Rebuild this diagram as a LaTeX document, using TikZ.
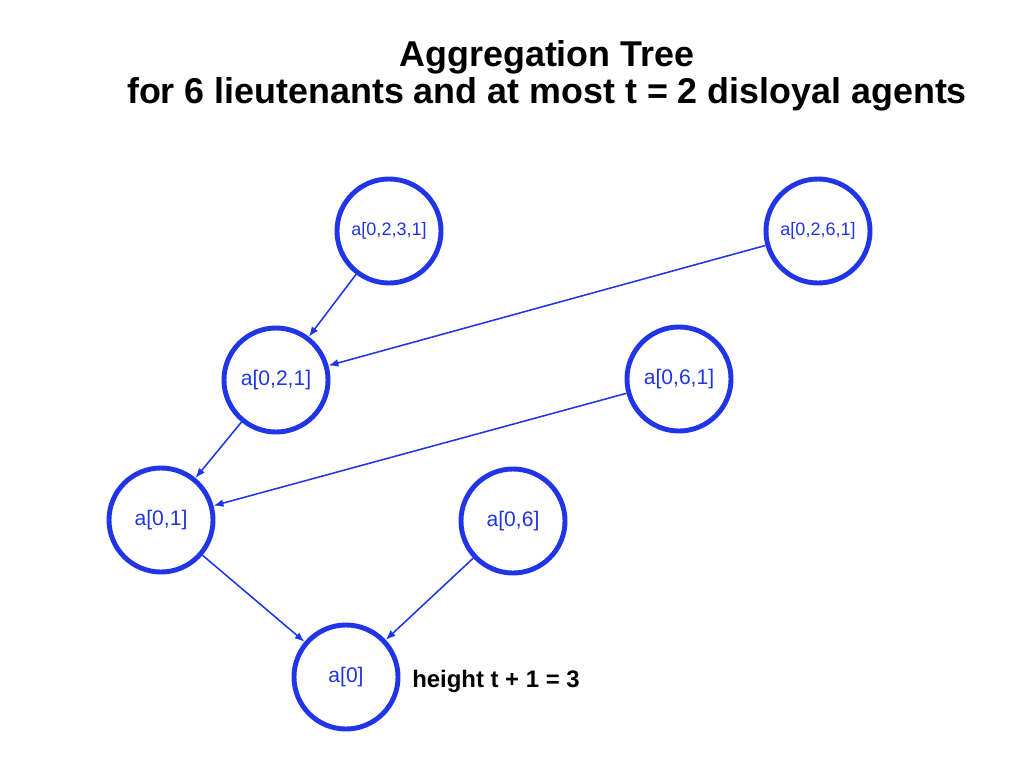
\documentclass[tikz,border=0pt]{standalone}
\usepackage{fontspec}
\setmainfont{Liberation Sans}
\usetikzlibrary{arrows.meta}
\definecolor{agblue}{RGB}{32,52,232}

\begin{document}
\begin{tikzpicture}[x=0.025cm,y=-0.025cm,
        agent/.style={circle,draw=agblue,line width=3.5pt,minimum size=2.6cm,inner sep=0pt,text=agblue,font=\fontsize{15}{18}\selectfont},
        deep/.style={font=\fontsize{12.8}{15}\selectfont},
        link/.style={draw=agblue,line width=1.1pt,-{Latex[length=7pt,width=5.5pt]}}]
            \useasboundingbox (0,0) rectangle (1024,768);
            \node[anchor=base,inner sep=0pt,font=\bfseries\fontsize{25.5}{26}\selectfont] (title) at (547,67) {Aggregation Tree};
            \node[anchor=base,inner sep=0pt,font=\bfseries\fontsize{25.5}{26}\selectfont] (subtitle) at (547,104) {for 6 lieutenants and at most t = 2 disloyal agents};
            \node[agent,deep] (a0231) at (389,231) {a[0,2,3,1]};
            \node[agent,deep] (a0261) at (818,231) {a[0,2,6,1]};
            \node[agent] (a021) at (276,380) {a[0,2,1]};
            \node[agent] (a061) at (679,379) {a[0,6,1]};
            \node[agent] (a01) at (161,520) {a[0,1]};
            \node[agent] (a06) at (513,521) {a[0,6]};
            \node[agent] (a0) at (346,677) {a[0]};
            \node[anchor=base west,inner sep=0pt,font=\bfseries\fontsize{17}{20}\selectfont] (height) at (412,687) {height t + 1 = 3};
            \draw[link] (a0231) -- (a021);
            \draw[link] (a0261) -- (a021);
            \draw[link] (a021) -- (a01);
            \draw[link] (a061) -- (a01);
            \draw[link] (a01) -- (a0);
            \draw[link] (a06) -- (a0);
        \end{tikzpicture}
\end{document}
